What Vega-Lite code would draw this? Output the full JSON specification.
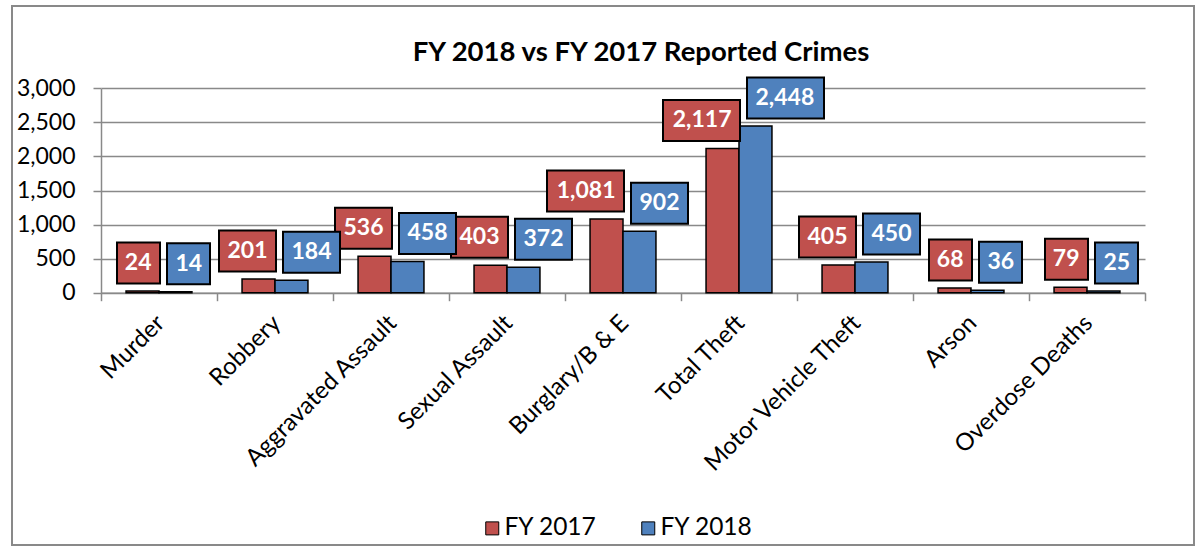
{
  "$schema": "https://vega.github.io/schema/vega-lite/v6.json",
  "width": 1182,
  "height": 539,
  "autosize": {"type": "none"},
  "padding": {"left": 12, "top": 6, "right": 5, "bottom": 1},
  "background": "white",
  "config": {
    "font": "Lato",
    "view": {"stroke": "#898989", "strokeWidth": 2, "fill": "white"}
  },
  "title": {
    "text": "FY 2018 vs FY 2017 Reported Crimes",
    "font": "Lato",
    "fontSize": 27.5,
    "fontWeight": "bold",
    "color": "black",
    "anchor": "middle",
    "frame": "group",
    "baseline": "middle",
    "offset": -74,
    "dx": 38
  },
  "data": {
    "values": [
      {"c": "Murder", "s": "FY 2017", "v": 24},
      {"c": "Robbery", "s": "FY 2017", "v": 201},
      {"c": "Aggravated Assault", "s": "FY 2017", "v": 536},
      {"c": "Sexual Assault", "s": "FY 2017", "v": 403},
      {"c": "Burglary/B & E", "s": "FY 2017", "v": 1081},
      {"c": "Total Theft", "s": "FY 2017", "v": 2117},
      {"c": "Motor Vehicle Theft", "s": "FY 2017", "v": 405},
      {"c": "Arson", "s": "FY 2017", "v": 68},
      {"c": "Overdose Deaths", "s": "FY 2017", "v": 79},
      {"c": "Murder", "s": "FY 2018", "v": 14},
      {"c": "Robbery", "s": "FY 2018", "v": 184},
      {"c": "Aggravated Assault", "s": "FY 2018", "v": 458},
      {"c": "Sexual Assault", "s": "FY 2018", "v": 372},
      {"c": "Burglary/B & E", "s": "FY 2018", "v": 902},
      {"c": "Total Theft", "s": "FY 2018", "v": 2448},
      {"c": "Motor Vehicle Theft", "s": "FY 2018", "v": 450},
      {"c": "Arson", "s": "FY 2018", "v": 36},
      {"c": "Overdose Deaths", "s": "FY 2018", "v": 25}
    ]
  },
  "encoding": {
    "x": {
      "field": "c",
      "type": "nominal",
      "sort": null,
      "scale": {"range": [89, 1133], "paddingInner": 0, "paddingOuter": 0},
      "axis": {
        "title": null,
        "labelAngle": -45,
        "labelAlign": "right",
        "labelBaseline": "top",
        "labelFont": "Lato",
        "labelFontSize": 24,
        "labelColor": "black",
        "labelLimit": 0,
        "labelPadding": 10,
        "labelOffset": -7,
        "tickBand": "extent",
        "tickSize": 8,
        "tickColor": "#898989",
        "tickWidth": 1.5,
        "domainColor": "#898989",
        "domainWidth": 1.5,
        "grid": false,
        "offset": -252.3,
        "zindex": 0
      }
    },
    "y": {
      "field": "v",
      "type": "quantitative",
      "scale": {"domain": [0, 3000], "range": [286.7, 82.3], "nice": false, "zero": true},
      "axis": {
        "title": null,
        "values": [0, 500, 1000, 1500, 2000, 2500, 3000],
        "format": ",d",
        "labelFont": "Lato",
        "labelFontSize": 23,
        "labelColor": "black",
        "labelPadding": 18,
        "tickSize": 8,
        "tickColor": "#898989",
        "tickWidth": 1.5,
        "domainColor": "#898989",
        "domainWidth": 1.5,
        "grid": true,
        "gridColor": "#898989",
        "gridWidth": 1.5,
        "offset": -89,
        "zindex": 0
      }
    }
  },
  "layer": [
    {
      "mark": {"type": "bar", "stroke": "black", "strokeWidth": 1.5},
      "encoding": {
        "xOffset": {"field": "s", "type": "nominal", "scale": {"paddingOuter": 0.76, "paddingInner": 0}},
        "color": {
          "field": "s",
          "type": "nominal",
          "scale": {"domain": ["FY 2017", "FY 2018"], "range": ["#C0504D", "#4F81BD"]},
          "legend": {
            "title": null,
            "orient": "none",
            "legendX": 468,
            "legendY": 510,
            "direction": "horizontal",
            "symbolType": "square",
            "symbolSize": 169,
            "symbolStrokeColor": "black",
            "symbolStrokeWidth": 1,
            "labelFont": "Lato",
            "labelFontSize": 24.5,
            "labelColor": "black",
            "labelOffset": 0,
            "columnPadding": 39,
            "padding": 0
          }
        }
      }
    },
    {
      "transform": [{"filter": "datum.s === 'FY 2017'"}],
      "mark": {"type": "point", "filled": true, "fill": "#C0504D", "stroke": "black", "strokeWidth": 2, "size": 4, "opacity": 1},
      "encoding": {
        "shape": {
          "condition": [
            {"test": "datum.v >= 1000", "value": "M-76,-48.5H1V-7.5H-76Z"},
            {"test": "datum.v >= 100", "value": "M-56,-48.5H1V-7.5H-56Z"}
          ],
          "value": "M-42,-48.5H1V-7.5H-42Z"
        }
      }
    },
    {
      "transform": [{"filter": "datum.s === 'FY 2017'"}],
      "mark": {"type": "text", "align": "right", "baseline": "middle", "dx": -7.5, "dy": -28, "font": "Lato", "fontSize": 23, "fontWeight": "bold", "fill": "white"},
      "encoding": {"text": {"field": "v", "type": "quantitative", "format": ","}}
    },
    {
      "transform": [{"filter": "datum.s === 'FY 2018'"}],
      "mark": {"type": "point", "filled": true, "fill": "#4F81BD", "stroke": "black", "strokeWidth": 2, "size": 4, "opacity": 1},
      "encoding": {
        "shape": {
          "condition": [
            {"test": "datum.v >= 1000", "value": "M8,-48.5H85V-7.5H8Z"},
            {"test": "datum.v >= 100", "value": "M8,-48.5H65V-7.5H8Z"}
          ],
          "value": "M8,-48.5H51V-7.5H8Z"
        }
      }
    },
    {
      "transform": [{"filter": "datum.s === 'FY 2018'"}],
      "mark": {"type": "text", "align": "left", "baseline": "middle", "dx": 16.5, "dy": -28, "font": "Lato", "fontSize": 23, "fontWeight": "bold", "fill": "white"},
      "encoding": {"text": {"field": "v", "type": "quantitative", "format": ","}}
    }
  ]
}
